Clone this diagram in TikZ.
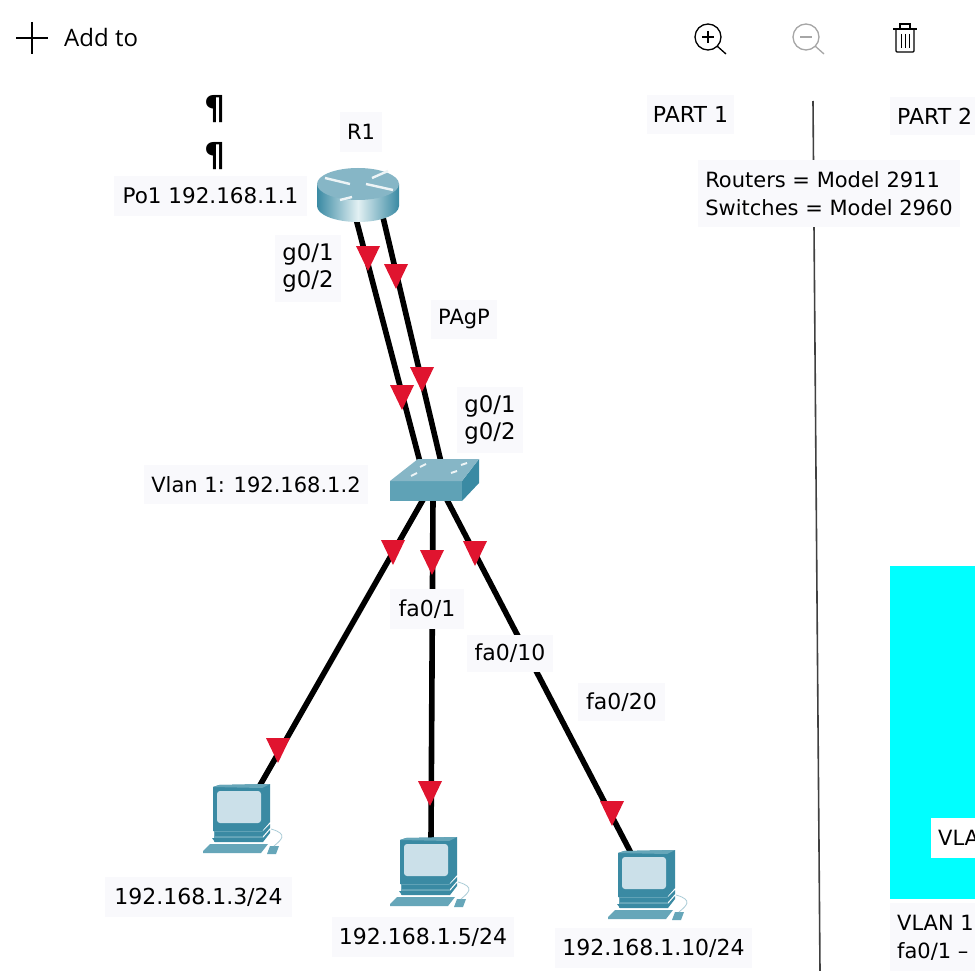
\documentclass[tikz,border=0pt]{standalone}
\usepackage{fontspec}
\setmainfont{DejaVu Sans}
\newfontfamily\barfont{Open Sans}
\definecolor{labbg}{HTML}{F9F9FC}
\definecolor{tipred}{HTML}{E0142F}
\definecolor{devdark}{HTML}{3A8AA3}
\definecolor{devmid}{HTML}{66A6B9}
\definecolor{devtop}{HTML}{86B6C6}
\definecolor{devpale}{HTML}{CBE0E9}
\definecolor{devlight}{HTML}{E2F0F3}
\definecolor{cyanblock}{HTML}{00FFFF}
\tikzset{
  lab/.style={fill=labbg,inner sep=0pt,align=center,font=\fontsize{21}{27.5}\selectfont,text=black},
  labwide/.style={lab,font=\fontsize{22}{27.5}\selectfont},
  labport/.style={lab,font=\fontsize{22.8}{27.5}\selectfont},
  parafont/.style={font=\bfseries\fontsize{33}{36}\selectfont,inner sep=0pt},
  link/.style={line width=5.6pt,black},
  devbox/.style={inner sep=0pt,draw=none,fill=none},
  sepline/.style={line width=1.6pt,black!75},
  icon/.style={line width=1.3pt,black},
  pcdev/.pic={
    \fill[devmid] (1,44) rectangle (50,57);
    \fill[devdark] (0,2)--(6,0)--(57,-1)--(57,37)--(49,46)--(0,46)--cycle;
    \fill[devmid] (0,2)--(6,0)--(57,-1)--(49,3)--cycle;
    \fill[devpale,rounded corners=3pt] (4,6)--(48,6)--(48,38)--(4,38)--cycle;
    \fill[devdark] (2,47)--(49,47)--(57,39)--(57,43)--(50,51)--(2,51)--cycle;
    \fill[devdark] (-1,53)--(50,53)--(57,45)--(57,48)--(50,57)--(2,57)--cycle;
    \fill[devmid] (-3,59)--(55,59)--(48,68)--(-10,68)--(-10,66)--cycle;
    \fill[devmid] (57,61)--(66,61)--(63,69)--(54,69)--cycle;
    \draw[devtop!70,line width=.8pt] (61,61) .. controls (68,55) and (76,49) .. (58,44);
  }
}
\begin{document}
\begin{tikzpicture}[x=1pt,y=-1pt]
\useasboundingbox (0,0) rectangle (975,971);
\clip (0,0) rectangle (975,971);
\fill[white] (0,0) rectangle (975,971);

% toolbar
\coordinate (plusl) at (16,38); \coordinate (plusr) at (48,38);
\coordinate (plust) at (32,22); \coordinate (plusb) at (32,54);
\draw[icon] (plusl) -- (plusr); \draw[icon] (plust) -- (plusb);
\node[font=\barfont\fontsize{24}{28}\selectfont,anchor=west,inner sep=0pt] (addto) at (64,38) {Add to};
\draw[icon] (708,37) circle (13);
\draw[icon] (717,46) -- (726,54);
\draw[icon] (702,37) -- (714,37) (708,31) -- (708,43);
\draw[icon,black!35] (806,37) circle (13);
\draw[icon,black!35] (815,46) -- (824,54);
\draw[icon,black!35] (800,37) -- (812,37);
\draw[icon] (893,29) -- (917,29);
\draw[icon] (900,29) -- (900,24) -- (910,24) -- (910,29);
\draw[icon,rounded corners=1pt] (896,29) -- (896,52) -- (914,52) -- (914,29);
\draw[line width=1pt] (901,34) -- (901,48) (905,34) -- (905,48) (909,34) -- (909,48);

% separator and coloured block
\coordinate (septop) at (813,101);
\coordinate (sepbot) at (820,971);
\draw[sepline] (septop) -- (sepbot);
\fill[cyanblock] (890,566) rectangle (975,899);

% device anchors
\node[devbox,minimum width=82pt,minimum height=54pt] (r1) at (358,195) {};
\node[devbox,minimum width=90pt,minimum height=42pt] (sw) at (434,480) {};
\node[devbox,minimum width=78pt,minimum height=70pt] (pc1) at (242,817) {};
\node[devbox,minimum width=78pt,minimum height=70pt] (pc2) at (429,870) {};
\node[devbox,minimum width=78pt,minimum height=70pt] (pc3) at (647,883) {};
\coordinate (ra) at (355,215); \coordinate (rb) at (382,213);
\coordinate (sa) at (420,462); \coordinate (sb) at (441,462);
\coordinate (sc) at (424,498); \coordinate (sd) at (433,498); \coordinate (se) at (446,498);
\coordinate (pa) at (259,787); \coordinate (pb) at (431,840); \coordinate (pd) at (631,853);

% links
\draw[link] (ra) -- (sa);
\draw[link] (rb) -- (sb);
\draw[link] (sc) -- (pa);
\draw[link] (sd) -- (pb);
\draw[link] (se) -- (pd);

% arrow tips
\foreach \tx/\ty in {368/271,396/289,422/392,402/410,393/565,432/575,475/566,278/763,430/806,612/826}
  \fill[tipred] (\tx-12,\ty-25) -- (\tx+12,\ty-25) -- (\tx,\ty) -- cycle;

% router
\shade[left color=devdark,right color=devdark,middle color=devlight]
  (317,184) -- (317,206) arc[start angle=180,end angle=0,x radius=41,y radius=16] -- (399,184) -- cycle;
\fill[devtop] (358,184) ellipse[x radius=41,y radius=16];
\foreach \ax/\ay/\bx/\by in {325/178/350/184, 393/190/366/184, 372/178/388/171, 352/197/340/200}
  \draw[white!85!devtop,line width=2.4pt] (\ax,\ay) -- (\bx,\by);

% switch
\fill[devmid!85!devdark] (390,481) -- (462,481) -- (462,501) -- (390,501) -- cycle;
\fill[devdark] (462,481) -- (479,459) -- (479,483) -- (462,501) -- cycle;
\fill[devtop] (390,481) -- (418,459) -- (479,459) -- (462,481) -- cycle;
\foreach \ax/\ay/\bx/\by in {420/467/426/464, 461/465/467/463, 411/476/417/473, 451/473/457/471}
  \draw[white!85!devtop,line width=2pt] (\ax,\ay) -- (\bx,\by);

% PCs
\pic at (213,785) {pcdev};
\pic at (400,838) {pcdev};
\pic at (618,851) {pcdev};

% labels
\node[parafont] (pa1) at (215,109) {¶};
\node[parafont] (pa2) at (215,156) {¶};
\node[lab,minimum width=42pt,minimum height=40pt] (lr) at (361,132) {R1};
\node[lab,font=\fontsize{21.5}{27.5}\selectfont,minimum width=193pt,minimum height=40pt] (lpo) at (210.5,196) {Po1 192.168.1.1};
\node[labport,minimum width=66pt,minimum height=67pt] (lg1) at (308,268) {g0/1\\g0/2};
\node[lab,minimum width=66pt,minimum height=39pt] (lpagp) at (464,319) {PAgP};
\node[labport,minimum width=66pt,minimum height=66pt] (lg2) at (490,420) {g0/1\\g0/2};
\node[lab,minimum width=224pt,minimum height=39pt] (lvl) at (256,484.5) {Vlan 1: 192.168.1.2};
\node[labwide,minimum width=74pt,minimum height=40pt] (lf1) at (427,609) {fa0/1};
\node[labwide,minimum width=86pt,minimum height=37pt] (lf2) at (510,653) {fa0/10};
\node[labwide,minimum width=87pt,minimum height=38pt] (lf3) at (621.5,702) {fa0/20};
\node[labwide,minimum width=187pt,minimum height=40pt] (li1) at (198.5,897) {192.168.1.3/24};
\node[labwide,minimum width=182pt,minimum height=40pt] (li2) at (423,937) {192.168.1.5/24};
\node[labwide,minimum width=197pt,minimum height=40pt] (li3) at (653.5,948) {192.168.1.10/24};
\node[labwide,minimum width=87pt,minimum height=39pt] (lp1) at (690.5,114.5) {PART 1};
\fill[labbg] (890,97) rectangle (975,135);
\node[labwide,fill=none,anchor=west] (lp2) at (897,116) {PART 2};
\node[lab,minimum width=262pt,minimum height=67pt,align=left] (lrs) at (829,193.5) {Routers = Model 2911\\Switches = Model 2960};
\fill[white] (931,818) rectangle (975,858);
\node[lab,fill=none,anchor=west] (lvla) at (938,838) {VLA};
\fill[labbg] (890,903) rectangle (975,971);
\node[lab,fill=none,anchor=north west,align=left] (lv) at (897,915) {VLAN 1\\fa0/1 –};
\end{tikzpicture}
\end{document}
